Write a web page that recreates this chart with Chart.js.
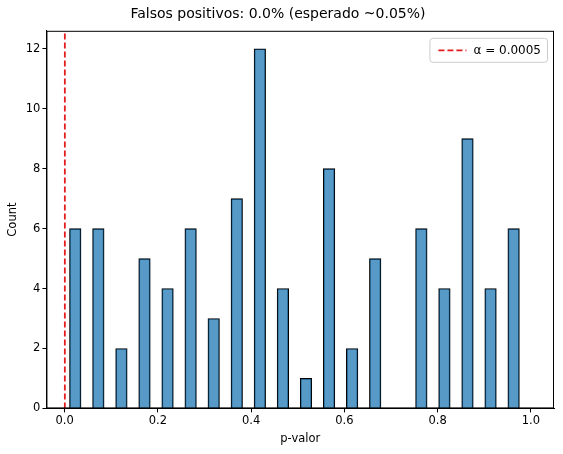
<!DOCTYPE html>
<html><head><meta charset="utf-8">
<script src="https://cdn.jsdelivr.net/npm/chart.js@4"></script>
<style>html,body{margin:0;padding:0;background:#fff}#w{width:563px;height:454px}</style>
</head><body><div id="w"><canvas id="c"></canvas></div>
<script>
const binStart = 0.0105;
const binWidth = 0.04948;
const counts = [6,6,2,5,4,6,3,7,12,4,1,8,2,5,0,6,4,9,4,6];
const xTicks = [0,0.2,0.4,0.6,0.8,1.0];
const yTicks = [0,2,4,6,8,10,12];
const alpha = 0.0005;
const legendText = 'α = 0.0005';
const titleText = 'Falsos positivos: 0.0% (esperado ~0.05%)';
// one empty padding bin on each side so the category axis lines up with the linear axis
const binLabels = ['', ...counts.map((c,i)=>String(i)), ''];
const barValues = [null, ...counts, null];
const xMin = binStart - binWidth;
const xMax = xMin + binWidth * binLabels.length;
const yMax = 12.6;
const F = 'DejaVu Sans';
const boxAndLegend = {
  id:'boxAndLegend',
  afterDraw(ch){
    const {ctx, chartArea:a} = ch;
    ctx.save();
    ctx.strokeStyle='#000'; ctx.lineWidth=1;
    ctx.strokeRect(a.left+0.5, a.top+0.5, a.right-a.left-1, a.bottom-a.top-1);
    ctx.font = '12px "'+F+'"';
    const tw = ctx.measureText(legendText).width;
    const w = tw + 50, h = 24;
    const x = a.right - w - 7, y = a.top + 7;
    ctx.fillStyle='rgba(255,255,255,0.8)'; ctx.strokeStyle='#ccc';
    ctx.beginPath(); ctx.roundRect(x+0.5,y+0.5,w,h,3); ctx.fill(); ctx.stroke();
    ctx.strokeStyle='#e41a1c'; ctx.lineWidth=1.8; ctx.setLineDash([6,3]);
    ctx.beginPath(); ctx.moveTo(x+9,y+h/2+0.5); ctx.lineTo(x+37,y+h/2+0.5); ctx.stroke();
    ctx.setLineDash([]); ctx.fillStyle='#000'; ctx.textBaseline='middle';
    ctx.fillText(legendText, x+44, y+h/2+1);
    ctx.restore();
  }
};
new Chart(document.getElementById('c'), {
  data: { labels: binLabels, datasets: [
    { type:'bar', data: barValues, xAxisID:'xb', backgroundColor:'rgba(31,119,180,0.75)', borderColor:'#000', borderWidth:1,
      barPercentage:1, categoryPercentage:1 },
    { type:'line', data:[{x:alpha,y:0},{x:alpha,y:yMax}], xAxisID:'x', borderColor:'#e41a1c',
      borderDash:[6,3], borderWidth:1.8, pointRadius:0 }
  ]},
  options: {
    responsive:true, maintainAspectRatio:false, animation:false,
    layout:{padding:{left:2,right:9,top:2,bottom:4}},
    plugins:{
      title:{display:true,text:titleText,color:'#000',font:{family:F,size:14,weight:'normal'},padding:{top:4,bottom:8}},
      legend:{display:false}, tooltip:{enabled:false}
    },
    scales:{
      xb:{type:'category',display:false,offset:true},
      x:{type:'linear',position:'bottom',min:xMin,max:xMax,offset:false,
        grid:{display:true,drawOnChartArea:false,color:'#000',tickLength:4},border:{color:'#000'},
        afterBuildTicks:a=>{a.ticks=xTicks.map(v=>({value:v}))},
        ticks:{color:'#000',font:{family:F,size:11.5},callback:v=>v.toFixed(1),padding:2},
        title:{display:true,text:'p-valor',color:'#000',font:{family:F,size:11.5},padding:{top:2}}},
      y:{min:0,max:yMax,grid:{display:true,drawOnChartArea:false,color:'#000',tickLength:4},border:{color:'#000'},
        afterBuildTicks:a=>{a.ticks=yTicks.map(v=>({value:v}))},
        ticks:{color:'#000',font:{family:F,size:11.5},padding:2},
        title:{display:true,text:'Count',color:'#000',font:{family:F,size:11.5}}}
    }
  },
  plugins:[boxAndLegend]
});
</script></body></html>
